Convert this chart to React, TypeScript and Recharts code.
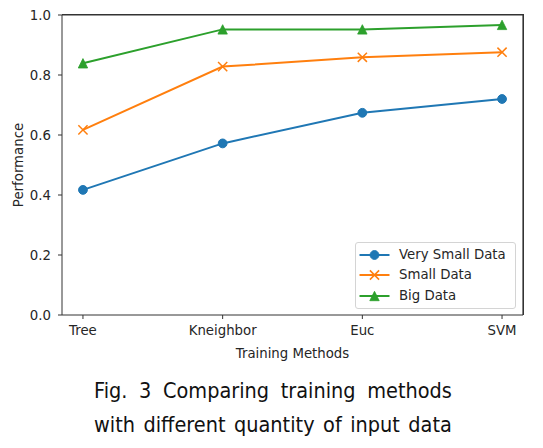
import React from 'react';
import { LineChart, Line, XAxis, YAxis, Legend, ReferenceLine } from 'recharts';

const methods = ['Tree', 'Kneighbor', 'Euc', 'SVM'];
const verySmallData = [0.417, 0.572, 0.674, 0.72];
const smallData = [0.617, 0.828, 0.859, 0.876];
const bigData = [0.839, 0.952, 0.952, 0.967];
const yTicks = [0, 0.2, 0.4, 0.6, 0.8, 1.0];
const xTicks = [0, 1, 2, 3];
const xDomain = [-0.15, 3.15];
const yDomain = [0, 1];

const seriesInfo = [
  { key: 'verySmall', name: 'Very Small Data', color: '#1f77b4', marker: 'circle' },
  { key: 'small', name: 'Small Data', color: '#ff7f0e', marker: 'x' },
  { key: 'big', name: 'Big Data', color: '#2ca02c', marker: 'triangle' },
];

const data = methods.map((m, i) => ({
  idx: i,
  name: m,
  verySmall: verySmallData[i],
  small: smallData[i],
  big: bigData[i],
}));

// layout
const CHART_W = 543;
const CHART_H = 370;
const MARGIN = { top: 15, right: 20, bottom: 0, left: 0 };
const Y_AXIS_W = 62;
const X_AXIS_H = 55;
const PLOT = {
  left: MARGIN.left + Y_AXIS_W,
  top: MARGIN.top,
  width: CHART_W - MARGIN.left - MARGIN.right - Y_AXIS_W,
  height: CHART_H - MARGIN.top - MARGIN.bottom - X_AXIS_H,
};

const TEXT = '#262626';
const AXIS = '#333';
const FONT = '"DejaVu Sans", sans-serif';

function Marker({ kind, color, cx, cy }: { kind: string; color: string; cx: number; cy: number }) {
  if (kind === 'circle') {
    return <circle cx={cx} cy={cy} r={4.4} fill={color} stroke={color} strokeWidth={1} />;
  }
  if (kind === 'x') {
    const h = 4.6;
    return (
      <path
        d={`M${cx - h},${cy - h}L${cx + h},${cy + h}M${cx - h},${cy + h}L${cx + h},${cy - h}`}
        stroke={color}
        strokeWidth={1.5}
        fill="none"
      />
    );
  }
  const h = 4.7;
  return <path d={`M${cx},${cy - h}L${cx + h},${cy + h}L${cx - h},${cy + h}Z`} fill={color} stroke={color} strokeWidth={0.8} />;
}

const makeDot = (kind: string, color: string) => (props: any) => {
  const { cx, cy, index } = props;
  if (cx == null || cy == null) return <g key={`d-${kind}-${index}`} />;
  return (
    <g key={`d-${kind}-${index}`}>
      <Marker kind={kind} color={color} cx={cx} cy={cy} />
    </g>
  );
};

const LegendContent = () => (
  <div
    style={{
      boxSizing: 'border-box',
      width: 161,
      height: 67,
      border: '1px solid #d4d4d4',
      borderRadius: 3,
      background: 'rgba(255,255,255,0.85)',
      paddingTop: 2,
      fontFamily: FONT,
      fontSize: 13.3,
      color: TEXT,
    }}
  >
    {seriesInfo.map((s) => (
      <div key={s.key} style={{ display: 'flex', alignItems: 'center', height: 20.3 }}>
        <svg width={43} height={20} style={{ display: 'block' }}>
          <line x1={3.5} y1={10} x2={33.5} y2={10} stroke={s.color} strokeWidth={2} />
          <Marker kind={s.marker} color={s.color} cx={18.5} cy={10} />
        </svg>
        <span style={{ whiteSpace: 'nowrap', lineHeight: '20px' }}>{s.name}</span>
      </div>
    ))}
  </div>
);

export default function App() {
  return (
    <div style={{ position: 'absolute', left: 0, top: 0, width: 543, height: 448, background: '#fff' }}>
      <LineChart width={CHART_W} height={CHART_H} data={data} margin={MARGIN} style={{ fontFamily: FONT }}>
        <XAxis
          dataKey="idx"
          type="number"
          domain={xDomain}
          ticks={xTicks}
          allowDataOverflow
          tickFormatter={(v: number) => methods[v] ?? ''}
          height={X_AXIS_H}
          tickSize={4}
          tickMargin={7}
          tick={{ fill: TEXT, fontSize: 13.3, fontFamily: FONT }}
          tickLine={{ stroke: AXIS }}
          axisLine={{ stroke: AXIS }}
          interval={0}
          label={{
            value: 'Training Methods',
            position: 'insideBottom',
            offset: 12,
            style: { fill: TEXT, fontSize: 13.3, fontFamily: FONT },
          }}
        />
        <YAxis
          domain={yDomain}
          ticks={yTicks}
          width={Y_AXIS_W}
          tickSize={4}
          tickMargin={7}
          tickFormatter={(v: number) => v.toFixed(1)}
          tick={{ fill: TEXT, fontSize: 13.3, fontFamily: FONT }}
          tickLine={{ stroke: AXIS }}
          axisLine={{ stroke: AXIS }}
          label={{
            value: 'Performance',
            angle: -90,
            position: 'insideLeft',
            offset: 18,
            style: { fill: TEXT, fontSize: 13.3, fontFamily: FONT, textAnchor: 'middle' },
          }}
        />
        <ReferenceLine y={yDomain[1]} stroke={AXIS} strokeWidth={1.2} ifOverflow="extendDomain" />
        <ReferenceLine x={xDomain[1]} stroke={AXIS} strokeWidth={1.2} ifOverflow="extendDomain" />
        <Legend
          layout="horizontal"
          verticalAlign="middle"
          align="center"
          content={() => <LegendContent />}
          wrapperStyle={{ position: 'absolute', left: 355, top: 242, width: 161, height: 67, bottom: 'auto', right: 'auto' }}
        />
        {seriesInfo.map((s) => (
          <Line
            key={s.key}
            type="linear"
            dataKey={s.key}
            name={s.name}
            stroke={s.color}
            strokeWidth={2}
            dot={makeDot(s.marker, s.color)}
            activeDot={false}
            isAnimationActive={false}
          />
        ))}
      </LineChart>
      {/* top and right spines of the plot frame */}
      <div
        style={{
          position: 'absolute',
          zIndex: 10,
          left: PLOT.left,
          top: PLOT.top - 1,
          width: PLOT.width + 1,
          height: PLOT.height + 1,
          boxSizing: 'border-box',
          borderTop: `1.5px solid ${AXIS}`,
          borderRight: `1.5px solid ${AXIS}`,
          pointerEvents: 'none',
        }}
      />
      <div
        style={{
          position: 'absolute',
          left: 94,
          top: 374,
          width: 389,
          transform: 'scaleX(0.92)',
          transformOrigin: '0 0',
          fontFamily: '"DejaVu Sans", sans-serif',
          fontSize: 21,
          lineHeight: '34px',
          color: '#111',
        }}
      >
        <div style={{ textAlign: 'justify', textAlignLast: 'justify' }}>Fig. 3 Comparing training methods</div>
        <div style={{ textAlign: 'justify', textAlignLast: 'justify' }}>with different quantity of input data</div>
      </div>
    </div>
  );
}
